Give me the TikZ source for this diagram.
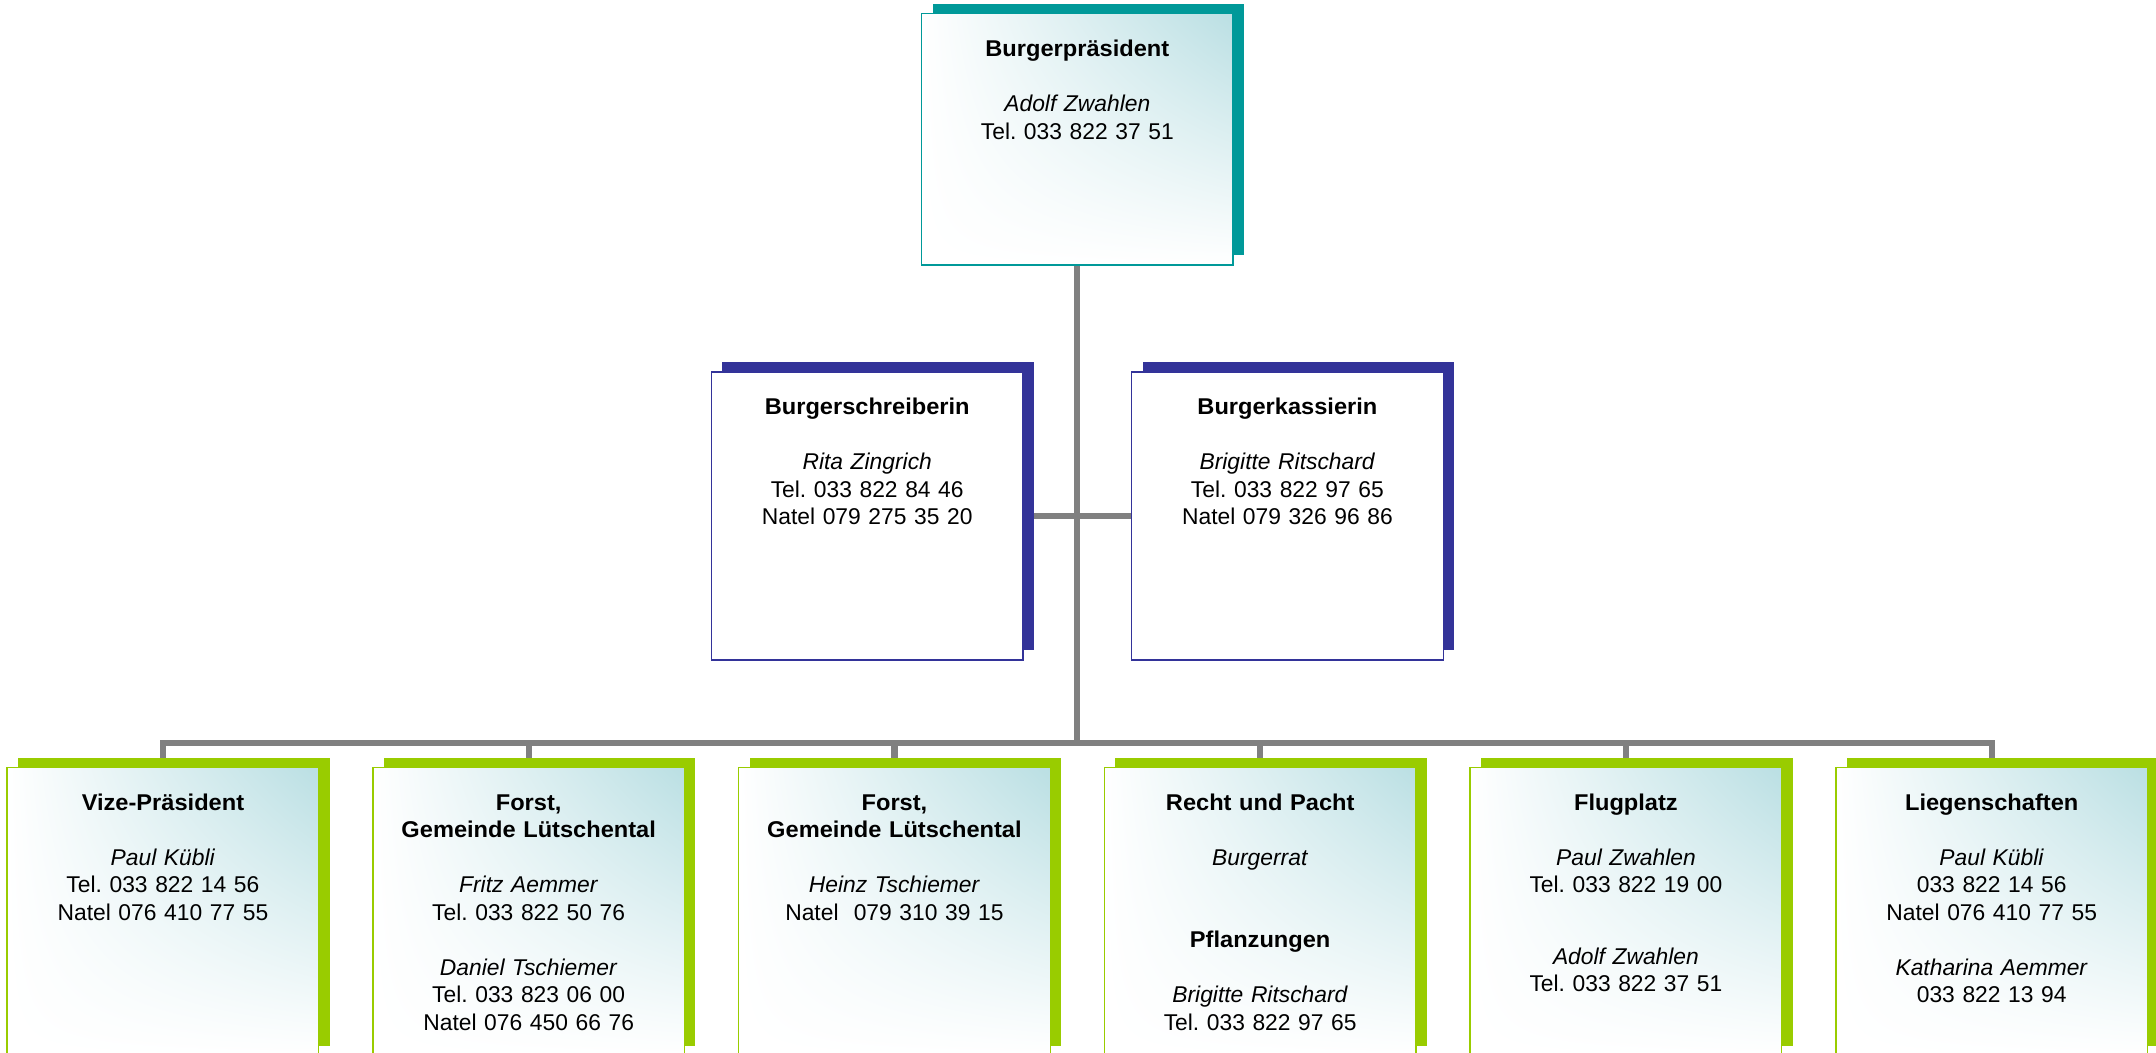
\documentclass[tikz,border=0pt]{standalone}
\usepackage{fontspec}
\setmainfont{Liberation Sans}[BoldFeatures={FakeStretch=1.035}]
\usepackage{xcolor}
\usepackage{tikz}
\usetikzlibrary{positioning, shadows, shadings, backgrounds}

\definecolor{orgteal}{RGB}{0,153,153}
\definecolor{orgblue}{RGB}{51,51,153}
\definecolor{orggreen}{RGB}{153,204,0}
\definecolor{orgtint}{RGB}{186,223,227}
\definecolor{orggrey}{RGB}{128,128,128}

\begin{document}
\frenchspacing
\begin{tikzpicture}[x=1pt, y=-1pt,
  orgbox/.style={rectangle, anchor=north, inner sep=0pt, minimum width=226.6pt, minimum height=209.4pt,
    line width=1pt, draw=#1, drop shadow={shadow xshift=8pt, shadow yshift=7pt, opacity=1, fill=#1}},
  tinted/.style={shade, upper right=orgtint, upper left=white, lower left=white, lower right=white},
  orgtext/.style={inner sep=0pt, text width=226pt, align=center, font=\fontsize{16.6}{20}\selectfont},
  link/.style={orggrey, line width=4.5pt}]
\useasboundingbox (0,0) rectangle (1568,765.8);

% Burgerpraesident
\node[orgbox=orgteal, tinted, minimum height=182.7pt] (praes) at (783.5,9.5) {};
\node[orgtext, below=17.5pt of praes.north] (praes-t) {\strut\textbf{Burgerpräsident}\\[20pt]
  \textit{Adolf Zwahlen}\\ Tel. 033 822 37 51};

% Schreiberin und Kassierin
\node[orgbox=orgblue, fill=white] (schreib) at (630.7,270) {};
\node[orgtext, below=17.5pt of schreib.north] (schreib-t) {\strut\textbf{Burgerschreiberin}\\[20pt]
  \textit{Rita Zingrich}\\ Tel. 033 822 84 46\\ Natel 079 275 35 20};
\node[orgbox=orgblue, fill=white] (kass) at (936.3,270) {};
\node[orgtext, below=17.5pt of kass.north] (kass-t) {\strut\textbf{Burgerkassierin}\\[20pt]
  \textit{Brigitte Ritschard}\\ Tel. 033 822 97 65\\ Natel 079 326 96 86};

% Ressorts
\node[orgbox=orggreen, tinted] (vize) at (118.5,557.6) {};
\node[orgtext, below=17.5pt of vize.north] (vize-t) {\strut\textbf{Vize-Präsident}\\[20pt]
  \textit{Paul Kübli}\\ Tel. 033 822 14 56\\ Natel 076 410 77 55};
\node[orgbox=orggreen, tinted] (forsta) at (384.5,557.6) {};
\node[orgtext, below=17.5pt of forsta.north] (forsta-t) {\strut\textbf{Forst,}\\ \textbf{Gemeinde Lütschental}\\[20pt]
  \textit{Fritz Aemmer}\\ Tel. 033 822 50 76\\[20pt]
  \textit{Daniel Tschiemer}\\ Tel. 033 823 06 00\\ Natel 076 450 66 76};
\node[orgbox=orggreen, tinted] (forstb) at (650.5,557.6) {};
\node[orgtext, below=17.5pt of forstb.north] (forstb-t) {\strut\textbf{Forst,}\\ \textbf{Gemeinde Lütschental}\\[20pt]
  \textit{Heinz Tschiemer}\\ Natel\ \ 079 310 39 15};
\node[orgbox=orggreen, tinted] (recht) at (916.5,557.6) {};
\node[orgtext, below=17.5pt of recht.north] (recht-t) {\strut\textbf{Recht und Pacht}\\[20pt]
  \textit{Burgerrat}\\[40pt] \textbf{Pflanzungen}\\[20pt]
  \textit{Brigitte Ritschard}\\ Tel. 033 822 97 65};
\node[orgbox=orggreen, tinted] (flug) at (1182.5,557.6) {};
\node[orgtext, below=17.5pt of flug.north] (flug-t) {\strut\textbf{Flugplatz}\\[20pt]
  \textit{Paul Zwahlen}\\ Tel. 033 822 19 00\\[32pt]
  \textit{Adolf Zwahlen}\\ Tel. 033 822 37 51};
\node[orgbox=orggreen, tinted] (liegen) at (1448.5,557.6) {};
\node[orgtext, below=17.5pt of liegen.north] (liegen-t) {\strut\textbf{Liegenschaften}\\[20pt]
  \textit{Paul Kübli}\\ 033 822 14 56\\ Natel 076 410 77 55\\[20pt]
  \textit{Katharina Aemmer}\\ 033 822 13 94};

% Verbindungen
\coordinate (bus) at (783.5,540.1);
\begin{pgfonlayer}{background}
\draw[link] (praes.south) -- (bus);
\draw[link] (schreib.east) -- (kass.west);
\draw[link] (vize.north) |- (bus) -| (liegen.north);
\draw[link] (forsta.north) -- (forsta.north |- bus);
\draw[link] (forstb.north) -- (forstb.north |- bus);
\draw[link] (recht.north) -- (recht.north |- bus);
\draw[link] (flug.north) -- (flug.north |- bus);
\end{pgfonlayer}
\end{tikzpicture}
\end{document}
